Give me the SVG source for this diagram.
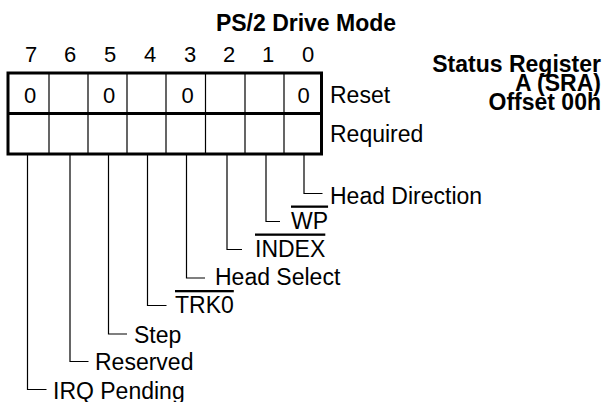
<svg xmlns="http://www.w3.org/2000/svg" width="605" height="402" viewBox="0 0 605 402">
<style>
text{font-family:"Liberation Sans",Arial,sans-serif;font-size:23px;fill:#000}
.d{font-size:22px}
.b{font-weight:bold}
.c{text-anchor:middle}
.e{text-anchor:end}
.ol{text-decoration:overline}
.thick{fill:none;stroke:#000;stroke-width:3}
.thin{fill:none;stroke:#000;stroke-width:1.2}
</style>
<rect width="605" height="402" fill="#fff"/>
<g id="title"><text class="b c" x="306" y="31">PS/2 Drive Mode</text></g>
<g id="register-name">
<text class="b e" x="601" y="71.5">Status Register</text>
<text class="b e" x="601" y="90.5">A (SRA)</text>
<text class="b e" x="601" y="110">Offset 00h</text>
</g>
<g id="bit-numbers">
<text class="c d" x="31" y="62">7</text>
<text class="c d" x="70" y="62">6</text>
<text class="c d" x="110" y="62">5</text>
<text class="c d" x="150" y="62">4</text>
<text class="c d" x="190" y="62">3</text>
<text class="c d" x="229" y="62">2</text>
<text class="c d" x="268" y="62">1</text>
<text class="c d" x="308" y="62">0</text>
</g>
<g id="register">
<rect class="thick" x="8" y="73" width="313.5" height="81"/>
<line class="thick" x1="8" y1="113.5" x2="321.5" y2="113.5"/>
<path class="thin" d="M49 73V154M88 73V154M127 73V154M166 73V154M205.5 73V154M245 73V154M284 73V154"/>
<text class="c d" x="30" y="102.5">0</text>
<text class="c d" x="109" y="102.5">0</text>
<text class="c d" x="187.5" y="102.5">0</text>
<text class="c d" x="303.5" y="102.5">0</text>
<text x="330" y="103">Reset</text>
<text x="330" y="141.5">Required</text>
</g>
<g id="connectors">
<path class="thin" d="M304 154V193.5H322.5"/>
<path class="thin" d="M266 154V221.5H280"/>
<path class="thin" d="M227 154V249.5H242"/>
<path class="thin" d="M186.5 154V278H205"/>
<path class="thin" d="M147.5 154V305.5H166.5"/>
<path class="thin" d="M108.5 154V334H127"/>
<path class="thin" d="M70 154V361.5H88.5"/>
<path class="thin" d="M27.5 154V389.5H46.5"/>
</g>
<g id="field-0"><text x="330" y="204">Head Direction</text></g>
<g id="field-1"><text class="ol" x="291" y="228.5">WP</text></g>
<g id="field-2"><text class="ol" x="255" y="256.5">INDEX</text></g>
<g id="field-3"><text x="215" y="284.5">Head Select</text></g>
<g id="field-4"><text class="ol" x="175" y="313">TRK0</text></g>
<g id="field-5"><text x="134" y="342.5">Step</text></g>
<g id="field-6"><text x="95" y="370">Reserved</text></g>
<g id="field-7"><text x="53" y="398.5">IRQ Pending</text></g>
</svg>
